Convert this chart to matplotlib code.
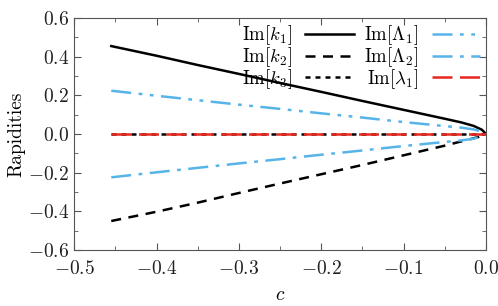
import matplotlib
matplotlib.use('Agg')
import matplotlib.pyplot as plt
from matplotlib.ticker import MultipleLocator

plt.rcParams['font.family'] = 'serif'
plt.rcParams['font.serif'] = ['cmr10']
plt.rcParams['mathtext.fontset'] = 'cm'
plt.rcParams['axes.formatter.use_mathtext'] = True

# values
c = [-0.455, -0.4, -0.35, -0.3, -0.25, -0.2, -0.15, -0.1, -0.05, -0.03, -0.015, -0.005, 0.0]
im_k1 = [0.455, 0.405, 0.357, 0.311, 0.264, 0.218, 0.171, 0.125, 0.079, 0.060, 0.042, 0.022, 0.0]
im_k2 = [-0.45, -0.402, -0.355, -0.305, -0.256, -0.208, -0.160, -0.110, -0.060, -0.038, -0.022, -0.010, 0.0]
im_k3 = [0.0] * len(c)
im_L1 = [0.224, 0.198, 0.175, 0.152, 0.130, 0.107, 0.085, 0.062, 0.041, 0.033, 0.024, 0.012, 0.0]
im_L2 = [-v for v in im_L1]
im_l1 = [0.0] * len(c)

blue = '#56B4E9'
red = '#E8281E'

fig = plt.figure(figsize=(4.98, 3.06), dpi=100)
ax = fig.add_axes([0.149, 0.183, 0.827, 0.758])

ax.plot(c, im_k1, color='black', lw=1.8, ls='-', label=r'$\mathrm{Im}[k_1]$')
ax.plot(c, im_k2, color='black', lw=1.8, ls=(0, (4, 3)), label=r'$\mathrm{Im}[k_2]$')
ax.plot(c, im_k3, color='black', lw=1.8, ls=(0, (2, 2)), label=r'$\mathrm{Im}[k_3]$')
ax.plot(c, im_L1, color=blue, lw=1.8, ls=(0, (8, 3, 1.5, 3, 1.5, 3)), label=r'$\mathrm{Im}[\Lambda_1]$')
ax.plot(c, im_L2, color=blue, lw=1.8, ls=(0, (8, 3, 1.5, 3)), label=r'$\mathrm{Im}[\Lambda_2]$')
ax.plot(c, im_l1, color=red, lw=1.8, ls=(0, (8, 3)), label=r'$\mathrm{Im}[\lambda_1]$')

ax.set_xlim(-0.5, 0.0)
ax.set_ylim(-0.6, 0.6)
ax.xaxis.set_major_locator(MultipleLocator(0.1))
ax.xaxis.set_minor_locator(MultipleLocator(0.05))
ax.yaxis.set_major_locator(MultipleLocator(0.2))
ax.yaxis.set_minor_locator(MultipleLocator(0.1))
ax.tick_params(which='both', direction='in', top=True, right=True, labelsize=14, colors='#555555',
               labelcolor='#222222')
ax.tick_params(which='major', length=5)
ax.tick_params(which='minor', length=3)
ax.tick_params(axis='x', pad=7)
for s in ax.spines.values():
    s.set_color('#555555')
fmt = plt.FuncFormatter(lambda v, p: '$%.1f$' % v if abs(v) > 1e-9 else '$0.0$')
ax.xaxis.set_major_formatter(fmt)
ax.yaxis.set_major_formatter(fmt)

ax.set_xlabel(r'$c$', fontsize=14, labelpad=6)
ax.set_ylabel('Rapidities', fontsize=14, labelpad=2)

ax.legend(loc='upper right', ncol=2, frameon=False, markerfirst=False, fontsize=13.5,
          handlelength=2.6, columnspacing=0.55, labelspacing=-0.12, borderaxespad=0.15,
          borderpad=0.15, handletextpad=0.7)

fig.savefig('out.png', dpi=100)
